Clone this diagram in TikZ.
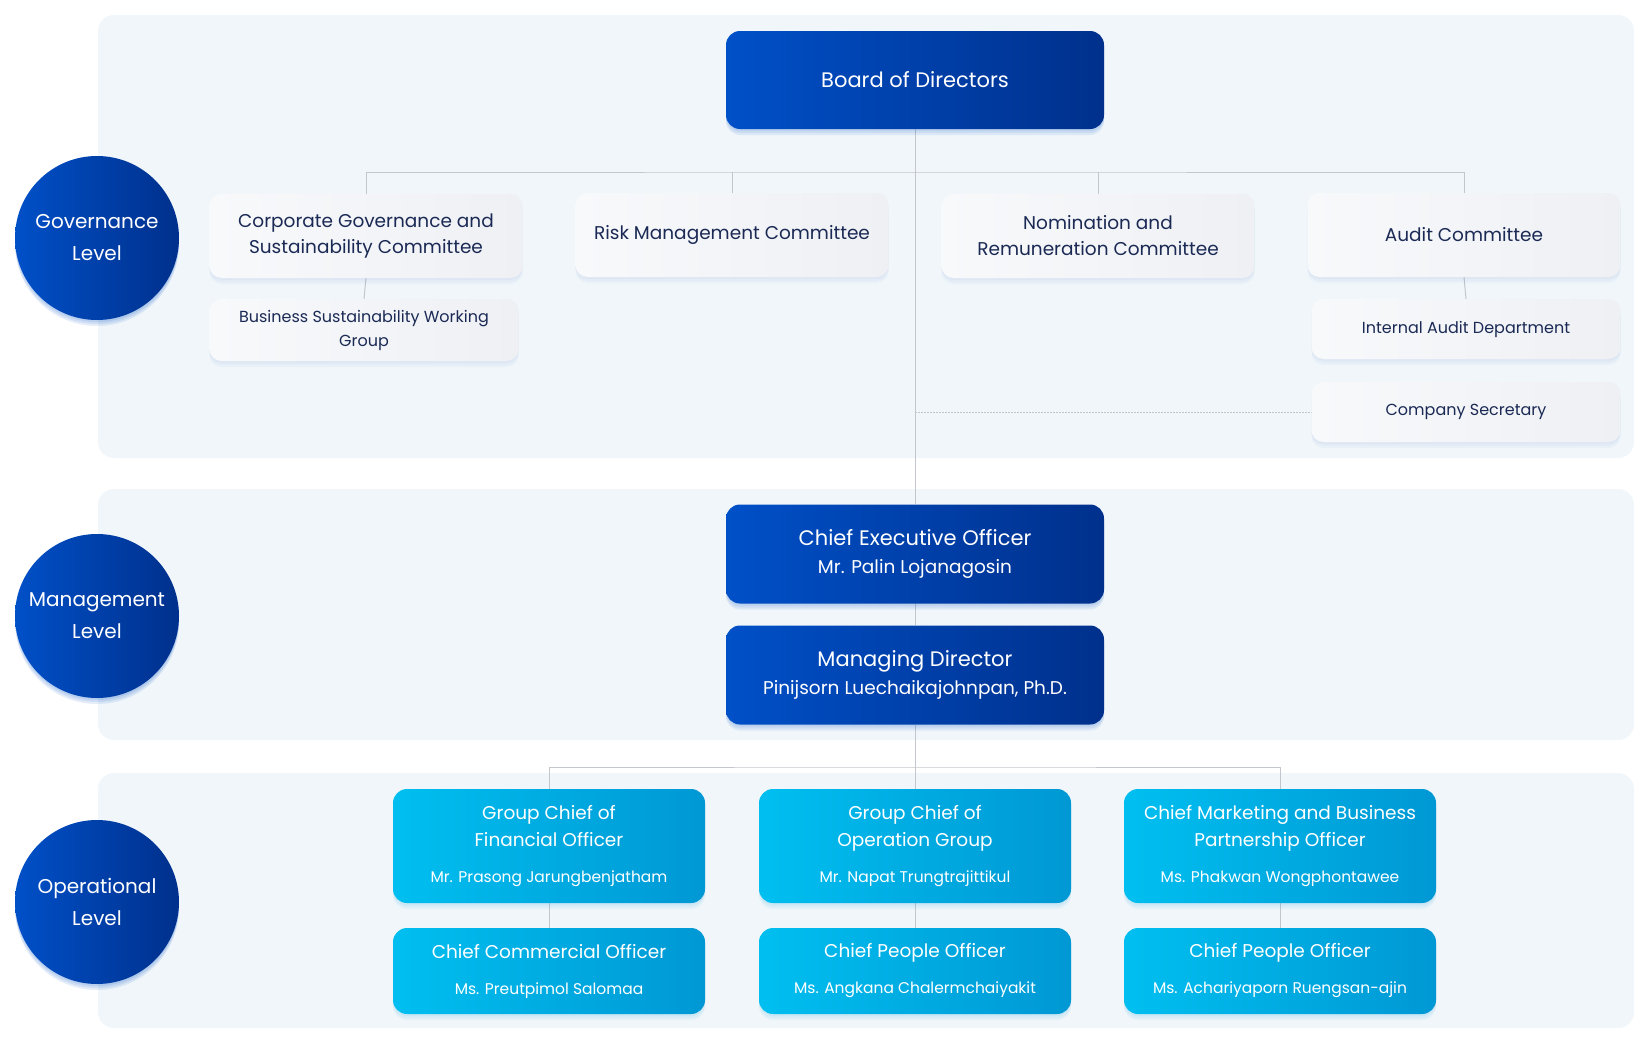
\documentclass[tikz,border=0pt]{standalone}
\usepackage{fontspec}
\setmainfont{Poppins}
\usetikzlibrary{shadows}
\definecolor{panelbg}{HTML}{F0F6FA}
\definecolor{navyL}{HTML}{0050C8}
\definecolor{navyR}{HTML}{00308C}
\definecolor{skyL}{HTML}{00BFF0}
\definecolor{skyR}{HTML}{0098D4}
\definecolor{cardL}{HTML}{F8F9FB}
\definecolor{cardR}{HTML}{EEF0F4}
\definecolor{cardtext}{HTML}{1B2A55}
\definecolor{linegray}{HTML}{C3C6CC}
\definecolor{shadowblue}{HTML}{3060C0}
\newcommand\pname[1]{{\fontsize{15.5}{18}\selectfont #1}}
\newcommand\hname[1]{{\fontsize{18.5}{22}\selectfont #1}}
\pgfdeclarelayer{panels}
\pgfdeclarelayer{lines}
\pgfsetlayers{panels,lines,main}

\begin{document}
\begin{tikzpicture}[x=1pt, y=-1pt,
  panel/.style={fill=panelbg, rounded corners=16pt},
  softshadow/.style 2 args={
    drop shadow={shadow xshift=0pt, shadow yshift=-2pt, fill=#1, opacity=#2},
    drop shadow={shadow xshift=0pt, shadow yshift=-4pt, fill=#1, opacity=#2},
    drop shadow={shadow xshift=0pt, shadow yshift=-6pt, fill=#1, opacity=#2}},
  level/.style={circle, minimum size=164pt, inner sep=0pt, left color=navyL,
                right color=navyR, text=white, align=center,
                font=\fontsize{20}{32}\selectfont, softshadow={navyL}{0.1}},
  head/.style={rounded corners=14pt, minimum width=378pt, inner sep=0pt,
               left color=navyL, right color=navyR, text=white, align=center,
               font=\fontsize{21}{28}\selectfont, softshadow={navyL}{0.08}},
  card/.style={rounded corners=12pt, minimum width=313pt, minimum height=84pt,
               inner sep=0pt, left color=cardL, right color=cardR, text=cardtext,
               align=center, font=\fontsize{18.5}{26}\selectfont,
               softshadow={shadowblue}{0.03}},
  subcard/.style={card, minimum width=309pt, minimum height=60pt,
                  font=\fontsize{16}{24}\selectfont},
  ops/.style={rounded corners=14pt, minimum width=312pt, inner sep=0pt,
              left color=skyL, right color=skyR, text=white, align=center,
              font=\fontsize{18.5}{27}\selectfont, softshadow={skyR}{0.05}},
  conn/.style={draw=linegray, line width=1pt},
]
\useasboundingbox (0,0) rectangle (1650,1044);

\begin{pgfonlayer}{panels}
  \fill[panel] (98,15) rectangle (1634,458);
  \fill[panel] (98,489) rectangle (1634,740);
  \fill[panel] (98,773) rectangle (1634,1028);
\end{pgfonlayer}

\node[level] (govlvl) at (97,238) {Governance\\Level};
\node[level] (mgtlvl) at (97,616) {Management\\Level};
\node[level] (opslvl) at (97,902) {Operational\\Level};

\node[head, minimum height=98pt] (board) at (915,80) {Board of Directors};

\node[card] (cgsc) at (366,236) {Corporate Governance and\\Sustainability Committee};
\node[card] (risk) at (732,235) {Risk Management Committee};
\node[card] (nomrem) at (1098,236) {Nomination and\\Remuneration Committee};
\node[card] (audit) at (1464,235) {Audit Committee};

\node[subcard, minimum height=62pt] (bswg) at (364,330) {Business Sustainability Working\\Group};
\node[subcard] (iad) at (1466,329) {Internal Audit Department};
\node[subcard] (cosec) at (1466,412) {Company Secretary};

\node[head, minimum height=99pt] (ceo) at (915,554) {Chief Executive Officer\\\hname{Mr. Palin Lojanagosin}};
\node[head, minimum height=99pt] (md) at (915,675) {Managing Director\\\hname{Pinijsorn Luechaikajohnpan, Ph.D.}};

\node[ops, minimum height=114pt] (gcfo) at (549,846) {Group Chief of\\Financial Officer\\[9pt]\pname{Mr. Prasong Jarungbenjatham}};
\node[ops, minimum height=114pt] (gcog) at (915,846) {Group Chief of\\Operation Group\\[9pt]\pname{Mr. Napat Trungtrajittikul}};
\node[ops, minimum height=114pt] (cmbpo) at (1280,846) {Chief Marketing and Business\\Partnership Officer\\[9pt]\pname{Ms. Phakwan Wongphontawee}};
\node[ops, minimum height=86pt] (cco) at (549,971) {Chief Commercial Officer\\[9pt]\pname{Ms. Preutpimol Salomaa}};
\node[ops, minimum height=86pt] (cpo) at (915,971) {Chief People Officer\\[9pt]\pname{Ms. Angkana Chalermchaiyakit}};
\node[ops, minimum height=86pt] (cpo2) at (1280,971) {Chief People Officer\\[9pt]\pname{Ms. Achariyaporn Ruengsan-ajin}};

\coordinate (gbus) at (915,172);
\coordinate (obus) at (915,767);
\coordinate (secjoin) at (915,412);

\begin{pgfonlayer}{lines}
  \draw[conn] (board.south) -- (ceo.north);
  \draw[conn] (ceo.south) -- (md.north);
  \draw[conn] (md.south) -- (gcog.north);
  \draw[conn] (cgsc.north) |- (gbus) -| (audit.north);
  \draw[conn] (risk.north) -- (risk.north |- gbus);
  \draw[conn] (nomrem.north) -- (nomrem.north |- gbus);
  \draw[conn] (cgsc.south) -- (bswg.north);
  \draw[conn] (audit.south) -- (iad.north);
  \draw[conn, dash pattern=on 1.5pt off 1.5pt] (secjoin) -- (cosec.west);
  \draw[conn] (gcfo.north) |- (obus) -| (cmbpo.north);
  \draw[conn] (gcfo.south) -- (cco.north);
  \draw[conn] (gcog.south) -- (cpo.north);
  \draw[conn] (cmbpo.south) -- (cpo2.north);
\end{pgfonlayer}

\end{tikzpicture}
\end{document}
